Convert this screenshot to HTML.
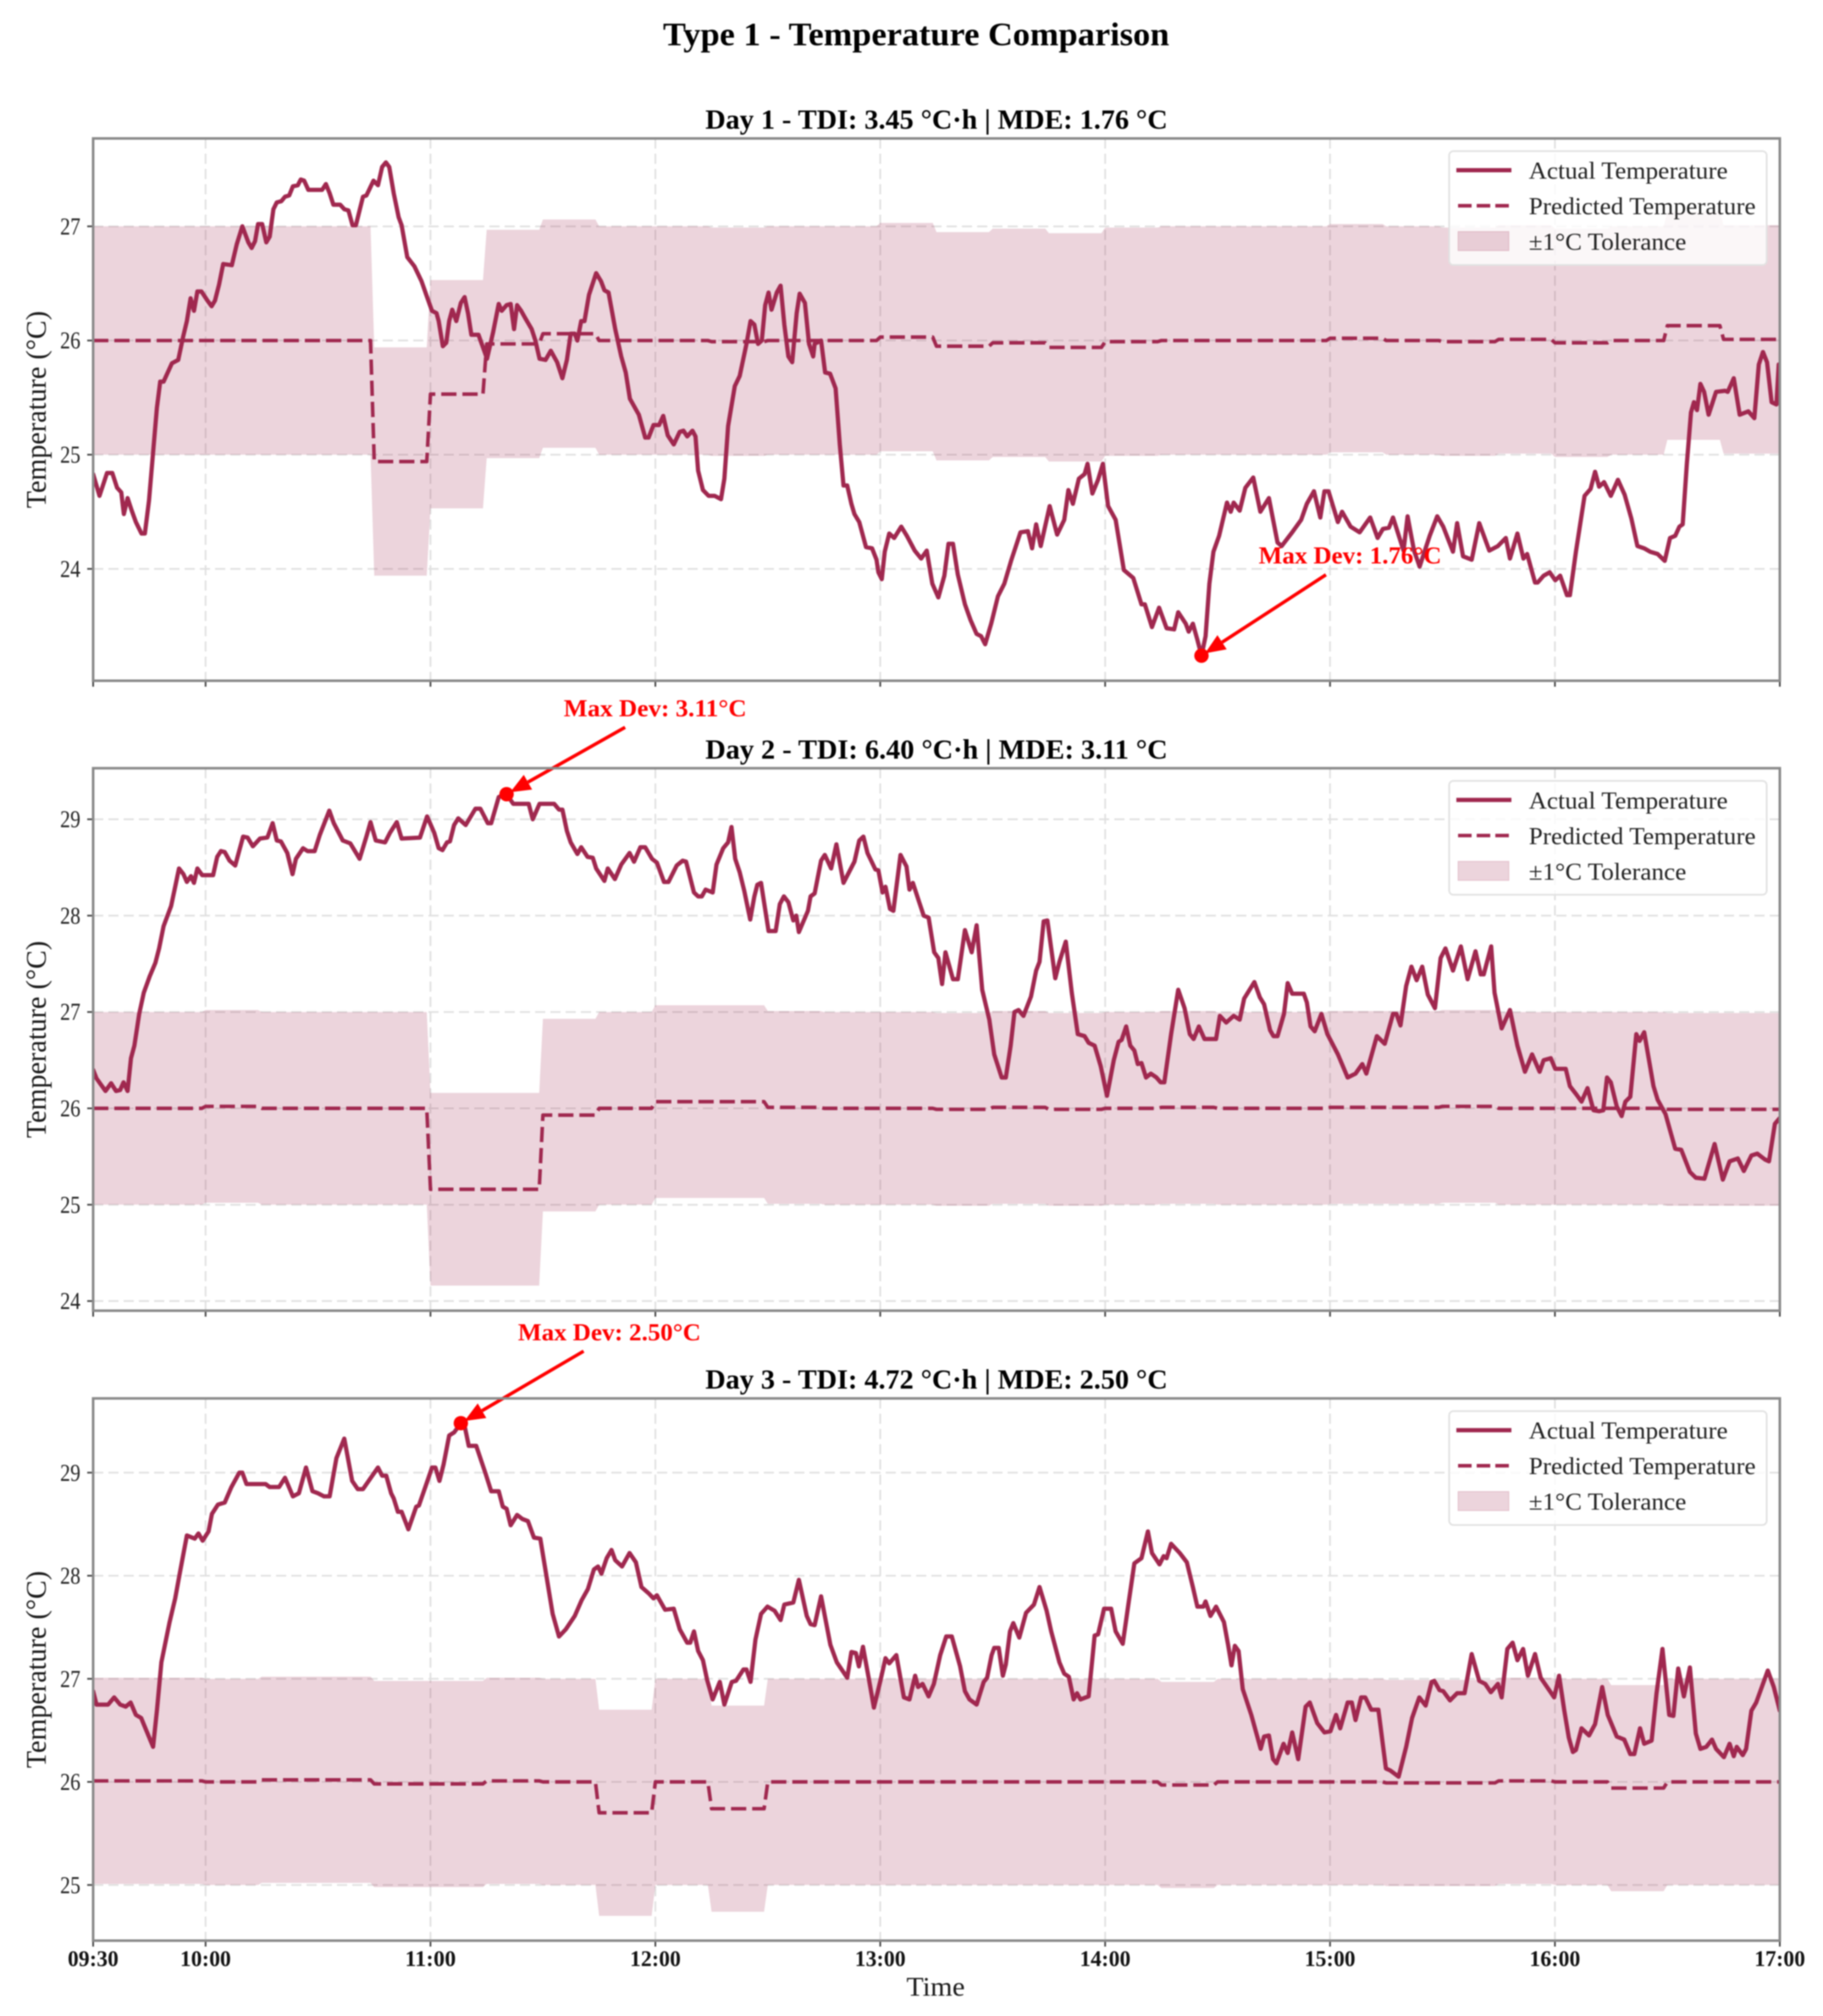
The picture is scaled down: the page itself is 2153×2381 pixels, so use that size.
<!DOCTYPE html>
<html lang="en">
<head>
<meta charset="utf-8">
<title>Type 1 - Temperature Comparison</title>
<style>
html,body{margin:0;padding:0;background:#fff;}
#chart{display:block;width:2153px;height:2381px;filter:blur(0.8px);}
text{font-family:"Liberation Serif","DejaVu Serif",serif;}
</style>
</head>
<body>
<svg id="chart" xmlns="http://www.w3.org/2000/svg" width="2153" height="2381" viewBox="0 0 2153 2381">
<rect x="0" y="0" width="2153" height="2381" fill="#ffffff"/>
<text x="1082" y="53.5" text-anchor="middle" font-size="39" font-weight="bold" fill="#000" textLength="598" lengthAdjust="spacingAndGlyphs">Type 1 - Temperature Comparison</text>
<text x="1105" y="2357" text-anchor="middle" font-size="32" fill="#1a1a1a" textLength="69" lengthAdjust="spacingAndGlyphs">Time</text>
</svg>
<script>
/* ===== chart data: minutes since 09:30 and temperatures in °C ===== */
const xTickMinutes = [0, 30, 90, 150, 210, 270, 330, 390, 450];
const xTickLabels = ["09:30", "10:00", "11:00", "12:00", "13:00", "14:00", "15:00", "16:00", "17:00"];
const legendLabels = ["Actual Temperature", "Predicted Temperature", "±1°C Tolerance"];
const predStepMinutes = 15;
const tolerance = 1;

const day1Title = "Day 1 - TDI: 3.45 °C·h | MDE: 1.76 °C";
const day1YTicks = [24, 25, 26, 27];
const day1YRange = [23.02, 27.77];
const day1Peak = [295.7, 23.24];
const day1PeakLabel = "Max Dev: 1.76°C";
const day1Pred = [26.00,26.00,26.00,26.00,26.00,24.94,25.53,25.97,26.06,26.00,26.00,25.99,26.00,26.00,26.03,25.95,25.98,25.94,25.99,26.00,26.00,26.00,26.02,26.00,25.99,26.01,25.98,26.00,26.13,26.01];
const day1Times = [0,1.7,3.7,5.1,6.4,7.5,8.2,9.2,10.3,11.4,12.9,13.8,14.9,16,17,17.9,18.8,21,22.7,24,25,26,26.9,27.8,28.9,30.5,31.6,32.5,33.6,34.7,37,38.3,39.8,41.4,42.3,43.2,44,45.1,46.2,47.1,48.1,49,50.2,51.2,52.3,53.3,54.6,55.4,56.3,57.4,61.1,62.1,63.1,64.1,65.9,67,68.1,69.2,70.1,72,72.9,74.8,76,77.1,78.1,79,80.2,81.5,82.3,83.8,85.7,87.6,89.1,90.4,91.6,92.2,93.3,94.2,95,95.8,96.9,98.1,99.1,100,100.9,102.8,105.1,106.7,108.2,109,110.3,111.4,112.3,113.1,114.2,115.2,117,118,119.1,120.7,122.1,123.8,125.2,126.4,127.4,128.5,129.2,130.2,131.1,132.3,134.2,135.5,136.4,137.5,139.3,140.9,142.1,143.2,145.6,147.3,148.2,149.5,151,152.1,153.3,154.9,156.5,157.5,158.5,159.9,160.7,161.4,162.7,164.2,165.8,167.5,168.4,169.4,171.2,172.5,174.3,175.4,176.4,177.4,178.4,179.3,180.2,181,182.4,183.4,184.4,185.5,186.5,187.7,188.5,189.9,191,192.1,192.5,194.2,195.3,196.6,198.1,199.2,200.2,201.2,202.3,203.1,204.4,206.2,207.8,209,209.5,210.4,211.2,212.4,213.7,215.6,217.1,219.2,220.9,222.4,223.9,225.5,227.1,228.2,229.4,230.7,232.6,234.1,235.7,236.9,238,239.6,241.4,243.1,245,247.4,249.4,250.5,251.6,252.8,255.2,257.2,259.1,260.2,261.4,263,264.5,265.3,266.6,268.1,269.4,270.8,272.8,275,277.5,279.7,280.6,282.5,284.4,286.4,288.4,289.5,291.5,292.3,293.4,294.6,295.7,296.8,297.8,298.9,300.4,302.5,303.5,304.3,305.9,307.4,309.5,311.4,313.7,316,317.1,319.9,322.3,323.8,325.7,327.4,328.5,329.6,332.1,333.2,335.5,337.9,339.4,340.7,342.7,344.1,345.7,346.8,349.6,350.7,352.4,353.9,356.6,358.6,360.2,362.8,363.9,365.5,367.8,369.8,372.5,374.8,376.9,378,380,381.6,382.6,384.7,385.4,387,388.6,390.1,391.4,393.2,394,395.6,397.9,399.5,400.7,401.8,403.1,404.9,406.8,408.6,410.4,412,413.8,415.4,417.4,419.3,420.7,422.1,423.2,424.1,425.2,426.3,427.1,427.9,428.8,429.8,431,433,435.4,436.1,437.7,439.3,441.6,443.2,444.4,445.5,446.6,447.8,449.1,449.7,450];
const day1Actual = [24.83,24.64,24.84,24.84,24.71,24.67,24.48,24.62,24.51,24.41,24.31,24.31,24.60,25.02,25.41,25.64,25.64,25.80,25.83,26.03,26.17,26.37,26.26,26.43,26.43,26.35,26.30,26.35,26.49,26.67,26.66,26.84,27.00,26.86,26.81,26.87,27.02,27.02,26.86,26.91,27.15,27.21,27.22,27.26,27.27,27.35,27.36,27.41,27.40,27.32,27.32,27.37,27.29,27.19,27.19,27.15,27.14,27.01,27.01,27.26,27.27,27.40,27.36,27.52,27.56,27.52,27.29,27.08,27.01,26.73,26.65,26.52,26.38,26.26,26.24,26.17,25.95,25.98,26.17,26.27,26.17,26.33,26.38,26.24,26.05,26.05,25.84,26.07,26.32,26.26,26.31,26.32,26.10,26.31,26.26,26.20,26.10,26.00,25.84,25.83,25.91,25.81,25.67,25.83,26.06,26.06,26.00,26.17,26.17,26.40,26.59,26.52,26.44,26.42,26.10,25.86,25.72,25.49,25.35,25.15,25.15,25.26,25.26,25.34,25.17,25.09,25.20,25.21,25.16,25.21,25.16,24.86,24.69,24.64,24.64,24.61,24.79,25.25,25.60,25.69,25.97,26.17,26.14,25.97,26.00,26.31,26.42,26.27,26.42,26.48,26.14,25.86,25.81,26.24,26.41,26.33,25.97,25.86,25.97,26.00,25.72,25.71,25.58,25.09,24.73,24.73,24.57,24.48,24.41,24.19,24.18,24.08,23.97,23.91,24.15,24.31,24.27,24.37,24.29,24.16,24.09,24.16,23.87,23.75,23.94,24.22,24.22,23.95,23.69,23.55,23.43,23.41,23.34,23.52,23.76,23.87,24.08,24.32,24.33,24.18,24.39,24.20,24.55,24.30,24.43,24.69,24.57,24.79,24.83,24.92,24.66,24.78,24.92,24.55,24.43,23.99,23.92,23.69,23.69,23.49,23.66,23.48,23.47,23.62,23.52,23.45,23.52,23.38,23.24,23.41,23.87,24.15,24.29,24.58,24.50,24.58,24.51,24.71,24.80,24.50,24.62,24.23,24.20,24.32,24.43,24.57,24.68,24.45,24.68,24.68,24.41,24.50,24.37,24.32,24.39,24.45,24.27,24.35,24.36,24.45,24.16,24.46,24.16,24.02,24.29,24.46,24.37,24.15,24.40,24.11,24.08,24.40,24.16,24.20,24.27,24.09,24.31,24.09,24.13,23.88,23.88,23.94,23.97,23.90,23.94,23.77,23.77,24.15,24.64,24.70,24.85,24.72,24.76,24.64,24.78,24.65,24.44,24.20,24.18,24.15,24.13,24.07,24.27,24.29,24.37,24.39,24.92,25.37,25.46,25.39,25.62,25.55,25.35,25.55,25.56,25.55,25.67,25.35,25.38,25.32,25.79,25.90,25.81,25.46,25.44,25.79,25.79];

const day2Title = "Day 2 - TDI: 6.40 °C·h | MDE: 3.11 °C";
const day2YTicks = [24, 25, 26, 27, 28, 29];
const day2YRange = [23.90, 29.53];
const day2Peak = [110.3, 29.26];
const day2PeakLabel = "Max Dev: 3.11°C";
const day2Pred = [26.00,26.00,26.02,26.00,26.00,26.00,25.16,25.16,25.93,26.00,26.07,26.07,26.01,26.00,26.00,25.99,26.01,25.99,26.00,26.01,26.00,26.00,26.01,26.01,26.02,26.00,26.00,26.00,25.99,25.99];
const day2Times = [0,0.9,2,3.3,4.8,6.1,7.2,8.1,9.2,10.1,11,12.3,13.5,15.1,16.6,17.6,18.8,20.8,21.9,22.9,24.1,25,26.1,26.9,27.8,29.1,32,33.1,34.1,35.1,36.4,37.9,40,41.2,42.6,44.5,46.5,47.9,49,50.1,51.8,53.2,54.1,56,57.2,59.1,60.5,63,64.2,66.6,68.6,71.1,72.9,74,75.4,77.9,79.2,81,82.3,87.2,89.1,91,92.2,93.2,94.4,95.2,96.3,97.4,99.4,102,103.3,105.3,106.2,108.2,110.3,112.1,116.2,117.3,119.1,123,124.3,125.2,126.4,127.4,129.2,130.2,131.9,133.3,134.2,136.4,137.3,139.2,140.9,143.1,144.3,146,147.3,149.1,150.4,152.3,153.5,155.7,157.3,158.2,160.3,161.4,162.4,163.4,165.3,166.3,168.1,169.4,170.3,171.3,172.5,173.7,175.3,176.4,177.2,178.2,180.2,182.1,183.2,184.3,185.5,186.8,187.6,188.3,190.7,191.4,192.5,194.2,195.2,196.9,198.3,200.2,203.1,204.4,205.5,206.6,208.7,209.5,210.6,211.4,212.6,213.5,215.4,217,217.8,218.7,220.4,221.6,222.9,224.4,225.5,226.5,227.4,229.4,230.7,232.6,234.4,235.7,237.2,239.1,240.4,242.4,243.5,244.8,245.8,246.9,248.2,250.2,251.6,252.5,253.6,254.6,256.7,257.8,259.5,261.1,262.7,264.5,265.6,267.2,268.8,270.5,272.3,273.6,274.4,275.6,276.7,277.8,278.7,279.7,280.9,282.2,283.7,284.8,285.8,287.6,289.5,291.2,292.6,293.6,295,296.5,299.6,300.6,302.3,304.3,305.9,307.1,309.8,311.3,312.4,314,314.9,316,317.7,318.7,319.9,323,323.8,324.8,325.9,327.7,329.3,332.1,334.7,336.8,338.6,339.7,342.5,344.6,346.8,347.7,348.8,350.3,351.7,353.1,354.6,356.1,358,359.5,360.8,362.8,364.9,366.7,368.8,370.2,371,373,373.9,375.8,378,380,382,383.9,385.9,387,388.9,390.1,392.9,394,395.6,397.1,398.7,400.3,401.8,402.9,403.9,404.9,406.5,407.8,408.8,410.1,411.7,412.6,413.8,416.3,417.4,419.5,422.1,423.7,426,427.6,429.9,432.6,434.8,436.6,438.8,440.4,442.4,444,446,447.1,448.7,450];
const day2Actual = [26.40,26.31,26.25,26.18,26.26,26.18,26.19,26.27,26.18,26.52,26.65,26.98,27.20,27.37,27.51,27.66,27.89,28.10,28.30,28.49,28.43,28.35,28.41,28.34,28.49,28.42,28.42,28.61,28.67,28.66,28.57,28.52,28.82,28.81,28.72,28.80,28.81,28.96,28.78,28.77,28.65,28.43,28.59,28.70,28.67,28.67,28.84,29.09,28.96,28.78,28.75,28.59,28.82,28.97,28.78,28.76,28.86,28.97,28.80,28.81,29.03,28.86,28.70,28.68,28.76,28.77,28.94,29.01,28.94,29.11,29.11,28.96,28.96,29.23,29.26,29.16,29.16,29.00,29.16,29.16,29.10,29.10,28.88,28.76,28.64,28.71,28.61,28.60,28.49,28.36,28.49,28.38,28.53,28.65,28.56,28.71,28.71,28.59,28.55,28.35,28.35,28.52,28.57,28.56,28.24,28.20,28.20,28.27,28.24,28.53,28.70,28.76,28.92,28.59,28.45,28.26,27.96,28.20,28.32,28.34,27.84,27.84,28.12,28.20,28.14,27.95,28.00,27.83,28.05,28.20,28.23,28.57,28.63,28.49,28.74,28.34,28.56,28.78,28.82,28.65,28.48,28.47,28.24,28.30,28.07,28.05,28.63,28.51,28.27,28.34,28.14,28.00,27.98,27.62,27.56,27.29,27.62,27.34,27.34,27.85,27.62,27.90,27.23,26.92,26.56,26.32,26.32,26.65,27.00,27.02,26.96,27.16,27.43,27.52,27.94,27.95,27.35,27.52,27.73,27.20,26.77,26.75,26.68,26.65,26.44,26.13,26.50,26.69,26.71,26.85,26.65,26.60,26.46,26.47,26.32,26.36,26.32,26.27,26.27,26.77,27.23,27.04,26.77,26.72,26.85,26.72,26.72,26.96,26.89,26.96,26.92,27.14,27.31,27.15,27.08,26.81,26.75,26.75,26.98,27.30,27.19,27.19,27.10,26.85,26.80,26.98,26.77,26.56,26.32,26.36,26.46,26.36,26.75,26.67,26.98,26.98,26.86,27.27,27.47,27.33,27.47,27.18,27.04,27.56,27.66,27.43,27.68,27.34,27.63,27.39,27.39,27.68,27.20,26.83,27.02,26.65,26.38,26.56,26.38,26.50,26.52,26.41,26.41,26.23,26.15,26.07,26.21,25.98,25.97,25.98,26.32,26.27,26.02,25.92,26.07,26.12,26.77,26.70,26.79,26.23,26.09,25.94,25.58,25.57,25.34,25.28,25.27,25.63,25.26,25.45,25.48,25.35,25.51,25.53,25.47,25.45,25.84,25.90];

const day3Title = "Day 3 - TDI: 4.72 °C·h | MDE: 2.50 °C";
const day3YTicks = [25, 26, 27, 28, 29];
const day3YRange = [24.46, 29.72];
const day3Peak = [98.1, 29.48];
const day3PeakLabel = "Max Dev: 2.50°C";
const day3Pred = [26.01,26.01,26.00,26.02,26.02,25.98,25.98,26.01,26.00,25.70,26.00,25.74,26.00,26.00,26.00,26.00,26.00,26.00,26.00,25.97,26.00,26.00,26.00,25.99,25.99,26.01,26.00,25.94,26.00,26.00];
const day3Times = [0,0.9,4,5.6,7.2,8.7,10,11.4,12.8,16,17,18.2,20.4,21.9,23.2,25,27.1,28.1,29.2,30.8,31.7,33.3,35.1,36.9,39,39.8,40.9,46,47.1,49.6,51.2,53.3,54.9,56.8,58.5,60,61.6,63.1,64.9,67,69.1,70.6,72,76,77.1,78.2,79.5,80.2,81.3,82.3,84.1,86.2,86.9,88.8,90.4,91.3,92.4,93.5,95,96.3,98.1,99.2,100.2,102.2,104.7,106.2,108.2,109.3,110.3,111.4,113.1,114.5,116,117.6,119.3,121.2,122.6,124.3,126.1,128.5,130.3,132,133.6,134.7,135.6,137,138.3,139.3,141.1,143.1,144.8,146.3,148.2,149.5,150.4,152.6,154.9,156.5,158.5,159.3,160.3,161.4,162.7,163.8,165.3,167.2,168.4,170.4,171.5,173.5,174.3,175.4,176.7,178.2,179.9,181.8,183.4,184.4,186.8,188.3,190.4,191.4,192.5,194.2,196.7,198.4,201.2,202.3,203.5,204.3,205.4,206.9,208.3,210.1,211.4,212.4,214.3,216.3,217.8,219.3,220.1,221.3,222.9,224.3,226,227.6,229.1,231.3,232.6,233.8,235.7,237.6,238.5,239.7,240.4,241.6,242.7,243.5,244.6,245.5,247.1,248.9,251,252.5,254.4,255.6,257.8,259.1,260.3,261.6,262.5,263.4,265.6,267.2,268.1,269.7,271.6,272.8,274.7,276.2,277.8,279.7,281.4,282.5,284.5,285.6,286.4,287.6,289.9,291.8,293.4,294.6,296.2,296.8,298.1,299.6,301.7,302.8,303.7,304.6,305.6,306.7,309,311.5,312.4,313.7,314.8,315.7,317.6,318.7,319.9,321.5,323.5,324.6,326.6,328.5,330.1,331.6,332.7,334.7,335.8,336.8,338.3,339.4,341,342.9,344.9,346.1,348.3,350.3,351.9,353.8,355.5,357.1,357.8,359.2,360.2,362,363.9,365.9,367.8,369.8,371.4,372.9,374.8,375.8,377.3,378.7,380,381.5,382.8,384.7,386.2,389.8,391.1,392.5,393.7,394.8,395.6,397.1,399.1,400.7,402.6,404.1,406.5,408.5,410.1,411.2,412.7,413.8,415.8,417.1,418.7,420.5,421.6,422.9,424.4,426,427.6,428.8,430.4,431.9,433,435.1,436.6,437.7,438.5,440.1,441,442.4,443.7,446.8,448.4,450];
const day3Actual = [26.88,26.75,26.75,26.82,26.75,26.73,26.77,26.65,26.62,26.34,26.69,27.16,27.55,27.78,28.04,28.39,28.36,28.41,28.34,28.43,28.60,28.69,28.71,28.86,29.00,29.00,28.89,28.89,28.86,28.86,28.95,28.77,28.80,29.05,28.82,28.80,28.77,28.77,29.14,29.33,28.92,28.84,28.84,29.05,28.97,28.97,28.80,28.75,28.62,28.62,28.45,28.67,28.68,28.88,29.05,29.05,28.92,29.08,29.36,29.39,29.48,29.44,29.26,29.26,28.99,28.82,28.82,28.67,28.65,28.49,28.59,28.55,28.53,28.37,28.36,27.94,27.63,27.41,27.48,27.61,27.76,27.87,28.06,28.09,28.02,28.17,28.25,28.15,28.09,28.22,28.13,27.89,27.83,27.78,27.81,27.67,27.68,27.48,27.35,27.35,27.46,27.27,27.18,26.99,26.80,26.97,26.75,26.97,26.98,27.09,27.09,26.97,27.38,27.63,27.70,27.66,27.57,27.72,27.74,27.96,27.61,27.53,27.52,27.80,27.33,27.16,27.01,27.26,27.25,27.12,27.31,27.01,26.72,26.99,27.20,27.15,27.23,26.82,26.80,27.03,26.92,26.95,26.83,26.95,27.23,27.41,27.41,27.12,26.88,26.80,26.75,26.97,27.01,27.23,27.30,27.30,27.03,27.14,27.46,27.54,27.40,27.64,27.72,27.89,27.66,27.46,27.16,27.05,27.02,26.80,26.86,26.80,26.83,27.42,27.43,27.68,27.68,27.46,27.34,27.72,28.12,28.17,28.43,28.22,28.11,28.19,28.17,28.31,28.22,28.13,27.89,27.70,27.70,27.75,27.61,27.70,27.55,27.33,27.13,27.32,27.27,26.90,26.65,26.32,26.44,26.45,26.22,26.18,26.37,26.28,26.48,26.22,26.73,26.77,26.57,26.48,26.49,26.65,26.52,26.77,26.77,26.60,26.82,26.82,26.70,26.70,26.13,26.11,26.05,26.34,26.62,26.82,26.74,26.97,26.98,26.89,26.88,26.79,26.86,26.86,27.24,26.98,26.95,26.87,26.95,26.82,27.29,27.35,27.18,27.29,27.03,27.24,27.01,26.82,27.03,26.69,26.43,26.29,26.31,26.52,26.45,26.56,26.92,26.65,26.44,26.41,26.27,26.27,26.52,26.37,26.40,26.86,27.29,26.65,26.64,27.10,26.83,27.11,26.47,26.32,26.34,26.41,26.32,26.24,26.37,26.25,26.34,26.26,26.32,26.69,26.77,27.08,26.92,26.69];

/* ===== layout and style ===== */
const SVGNS = "http://www.w3.org/2000/svg";
const plotLeft = 110, plotRight = 2102;
const timeDomain = [0, 450];
const lineColor = "#a0284f";
const bandColor = "rgba(162,40,78,0.2)";
const svg = document.getElementById("chart");

function svgEl(parent, tag, attrs, text) {
  const el = document.createElementNS(SVGNS, tag);
  for (const k in attrs) el.setAttribute(k, attrs[k]);
  if (text !== undefined) el.textContent = text;
  parent.appendChild(el);
  return el;
}
function scaleX(t) {
  return plotLeft + (t - timeDomain[0]) / (timeDomain[1] - timeDomain[0]) * (plotRight - plotLeft);
}
function makeScaleY(range, top, bottom) {
  return function (v) { return bottom - (v - range[0]) / (range[1] - range[0]) * (bottom - top); };
}
function stepPoints(values) {
  const pts = [];
  values.forEach(function (v, k) {
    pts.push([k * predStepMinutes, v]);
    pts.push([k * predStepMinutes + predStepMinutes - 1, v]);
  });
  pts.push([values.length * predStepMinutes, values[values.length - 1]]);
  return pts;
}
function toPath(pts, sy) {
  return pts.map(function (p, i) {
    return (i ? "L" : "M") + scaleX(p[0]).toFixed(1) + " " + sy(p[1]).toFixed(1);
  }).join(" ");
}

function drawPanel(cfg) {
  const top = cfg.top, bottom = cfg.bottom;
  const sy = makeScaleY(cfg.range, top, bottom);
  const g = svgEl(svg, "g", {});
  
  

  const clipId = cfg.id + "-clip";
  const defs = svgEl(g, "defs", {});
  const clip = svgEl(defs, "clipPath", { id: clipId });
  svgEl(clip, "rect", { x: plotLeft, y: top, width: plotRight - plotLeft, height: bottom - top });

  const title = svgEl(g, "text", { x: 1106, y: top - 11.5, "text-anchor": "middle", "font-size": 33, "font-weight": "bold", fill: "#000", textLength: 546, lengthAdjust: "spacingAndGlyphs" }, cfg.title);
  
  

  xTickMinutes.forEach(function (t, i) {
    const x = scaleX(t);
    if (i > 0 && i < xTickMinutes.length - 1) {
      const grid = svgEl(g, "line", { x1: x, x2: x, y1: top, y2: bottom, stroke: "#e0e0e0", "stroke-width": 2, "stroke-dasharray": "12 6" });
      
      
    }
    const tick = svgEl(g, "line", { x1: x, x2: x, y1: bottom, y2: bottom + 7, stroke: "#444", "stroke-width": 2 });
    
    
    if (cfg.showXLabels) {
      const lab = svgEl(g, "text", { x: x, y: bottom + 30, "text-anchor": "middle", "font-size": 26, "font-weight": "bold", fill: "#111", textLength: 60, lengthAdjust: "spacingAndGlyphs" }, xTickLabels[i]);
      
      
    }
  });

  cfg.yTicks.forEach(function (v) {
    const y = sy(v);
    const grid = svgEl(g, "line", { x1: plotLeft, x2: plotRight, y1: y, y2: y, stroke: "#e0e0e0", "stroke-width": 2, "stroke-dasharray": "12 6" });
    
    
    const tick = svgEl(g, "line", { x1: plotLeft - 7, x2: plotLeft, y1: y, y2: y, stroke: "#444", "stroke-width": 2 });
    
    
    const lab = svgEl(g, "text", { x: 95, y: y + 9.5, "text-anchor": "end", "font-size": 28, fill: "#222", textLength: 24, lengthAdjust: "spacingAndGlyphs" }, String(v));
    
    
  });

  const midY = (top + bottom) / 2;
  const yTitle = svgEl(g, "text", { x: 0, y: 0, transform: "translate(54 " + midY + ") rotate(-90)", "text-anchor": "middle", "font-size": 34, fill: "#1a1a1a", textLength: 233, lengthAdjust: "spacingAndGlyphs" }, "Temperature (°C)");
  
  

  const plot = svgEl(g, "g", { "clip-path": "url(#" + clipId + ")" });
  const predPts = stepPoints(cfg.pred);
  const upper = predPts.map(function (p) { return [p[0], p[1] + tolerance]; });
  const lower = predPts.map(function (p) { return [p[0], p[1] - tolerance]; }).reverse();
  const band = svgEl(plot, "path", { d: toPath(upper.concat(lower), sy) + " Z", fill: bandColor, stroke: "none" });
  
  

  const predLine = svgEl(plot, "path", { d: toPath(predPts, sy), fill: "none", stroke: lineColor, "stroke-width": 4.2, "stroke-dasharray": "18 7", "stroke-linejoin": "round" });
  
  

  const actualPts = cfg.times.map(function (t, i) { return [t, cfg.actual[i]]; });
  const actualLine = svgEl(plot, "path", { d: toPath(actualPts, sy), fill: "none", stroke: lineColor, "stroke-width": 5, "stroke-linejoin": "round", "stroke-linecap": "round" });
  
  

  const mx = scaleX(cfg.peak[0]), my = sy(cfg.peak[1]);
  const marker = svgEl(g, "circle", { cx: mx, cy: my, r: 8.5, fill: "#ff0000" });
  
  

  const tailX = mx + cfg.arrow[0], tailY = my + cfg.arrow[1];
  const dx = mx - tailX, dy = my - tailY, len = Math.sqrt(dx * dx + dy * dy);
  const ux = dx / len, uy = dy / len;
  const tipX = mx - ux * 5, tipY = my - uy * 5;
  const baseX = tipX - ux * 24, baseY = tipY - uy * 24;
  const arrowLine = svgEl(g, "line", { x1: tailX, y1: tailY, x2: baseX, y2: baseY, stroke: "#ff0000", "stroke-width": 4 });
  
  
  const head = svgEl(g, "polygon", { points: tipX + "," + tipY + " " + (baseX - uy * 10) + "," + (baseY + ux * 10) + " " + (baseX + uy * 10) + "," + (baseY - ux * 10), fill: "#ff0000" });
  
  
  const note = svgEl(g, "text", { x: mx + 175.5, y: my + cfg.noteDy, "text-anchor": "middle", "font-size": 29, "font-weight": "bold", fill: "#ff0000", textLength: 216, lengthAdjust: "spacingAndGlyphs" }, cfg.peakLabel);
  
  

  const legend = svgEl(g, "g", {});
  
  
  const box = svgEl(legend, "rect", { x: 1711.5, y: top + 15, width: 375, height: 134.5, rx: 5, fill: "rgba(255,255,255,0.8)", stroke: "#e2e2e2", "stroke-width": 2 });
  
  
  const solid = svgEl(legend, "line", { x1: 1720, x2: 1785, y1: top + 37.5, y2: top + 37.5, stroke: lineColor, "stroke-width": 5 });
  
  
  const dashed = svgEl(legend, "line", { x1: 1722, x2: 1782, y1: top + 79.5, y2: top + 79.5, stroke: lineColor, "stroke-width": 4.2, "stroke-dasharray": "16 6" });
  
  
  const swatch = svgEl(legend, "rect", { x: 1722, y: top + 110, width: 60, height: 22.5, fill: bandColor, stroke: bandColor });
  
  
  const legendWidths = [235, 268, 186];
  legendLabels.forEach(function (label, i) {
    const t = svgEl(legend, "text", { x: 1805.5, y: top + 47.5 + 42 * i, "font-size": 29, fill: "#222", textLength: legendWidths[i], lengthAdjust: "spacingAndGlyphs" }, label);
    
    
  });

  const frame = svgEl(g, "rect", { x: plotLeft, y: top, width: plotRight - plotLeft, height: bottom - top, fill: "none", stroke: "#8a8a8a", "stroke-width": 3 });
  
  
}

drawPanel({ id: "day-1", title: day1Title, top: 163.5, bottom: 804, range: day1YRange, yTicks: day1YTicks, pred: day1Pred, times: day1Times, actual: day1Actual, peak: day1Peak, peakLabel: day1PeakLabel, arrow: [147, -95.5], noteDy: -109, showXLabels: false });
drawPanel({ id: "day-2", title: day2Title, top: 907.3, bottom: 1548, range: day2YRange, yTicks: day2YTicks, pred: day2Pred, times: day2Times, actual: day2Actual, peak: day2Peak, peakLabel: day2PeakLabel, arrow: [140, -79], noteDy: -92, showXLabels: false });
drawPanel({ id: "day-3", title: day3Title, top: 1651.6, bottom: 2292, range: day3YRange, yTicks: day3YTicks, pred: day3Pred, times: day3Times, actual: day3Actual, peak: day3Peak, peakLabel: day3PeakLabel, arrow: [145, -85], noteDy: -98, showXLabels: true });
</script>
</body>
</html>
